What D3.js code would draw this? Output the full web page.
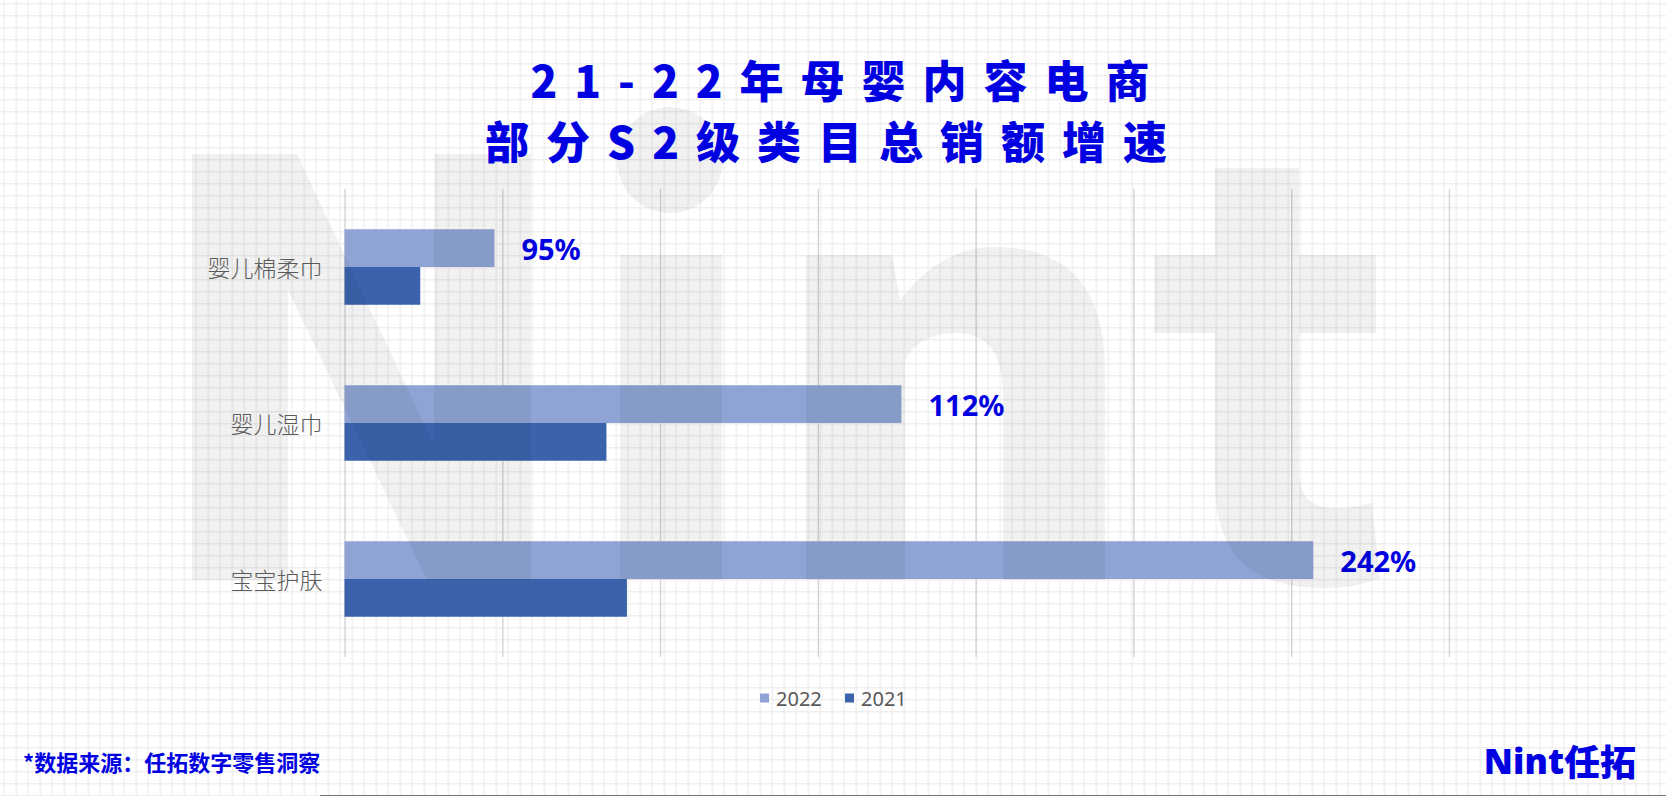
<!DOCTYPE html>
<html>
<head>
<meta charset="utf-8">
<script src="https://cdn.jsdelivr.net/npm/d3@7"></script>
<style>
  html, body { margin: 0; padding: 0; background: #fff; }
  svg { display: block; }
</style>
</head>
<body>
<svg id="chart" width="1666" height="796"></svg>
<script>
// ---- data ----
const categories = ["婴儿棉柔巾", "婴儿湿巾", "宝宝护肤"];
const seriesNames = ["2022", "2021"];
const values2022 = [0.95, 3.53, 6.14];
const values2021 = [0.48, 1.66, 1.79];
const growthLabels = ["95%", "112%", "242%"];
const xTicks = [0, 1, 2, 3, 4, 5, 6, 7];
const titleLines = ["21-22年母婴内容电商", "部分S2级类目总销额增速"];
const sourceText = "*数据来源：任拓数字零售洞察";

const W = 1666, H = 796;
const BLUE = "#0000e1";
const colors = { "2022": "#8fa4d4", "2021": "#3b63ac" };
const CJK = "'Noto Sans CJK SC', 'Noto Sans', sans-serif";

const svg = d3.select("#chart");

// background grid pattern
const defs = svg.append("defs");
const pat = defs.append("pattern")
  .attr("id", "bggrid").attr("patternUnits", "userSpaceOnUse")
  .attr("x", 3.5).attr("y", 3).attr("width", 12).attr("height", 12);
pat.append("rect").attr("width", 12).attr("height", 12).attr("fill", "#fff");
pat.append("rect").attr("x", 0).attr("y", 0).attr("width", 1.4).attr("height", 12).attr("fill", "#eeeeee");
pat.append("rect").attr("x", 0).attr("y", 0).attr("width", 12).attr("height", 1.4).attr("fill", "#eeeeee");
svg.append("rect").attr("width", W).attr("height", H).attr("fill", "url(#bggrid)");

// scales
const x = d3.scaleLinear().domain([0, 7]).range([344.5, 1449]);
const y = d3.scaleBand().domain(categories).range([189, 657]).paddingInner(0.516).paddingOuter(0.258);
const ySub = d3.scaleBand().domain(seriesNames).range([0, y.bandwidth()]).padding(0);

// vertical gridlines via axis
const gridAxis = d3.axisBottom(x).tickValues(xTicks).tickSize(-(657 - 189)).tickFormat("");
const gg = svg.append("g").attr("transform", `translate(0,657)`).call(gridAxis);
gg.select(".domain").remove();
gg.selectAll(".tick line").attr("stroke", "#d4d4d4").attr("stroke-width", 1.4);

// bars
const rows = categories.map((c, i) => ({ cat: c, "2022": values2022[i], "2021": values2021[i], label: growthLabels[i] }));
const groups = svg.append("g").selectAll("g").data(rows).join("g")
  .attr("transform", d => `translate(0,${y(d.cat)})`);
groups.selectAll("rect").data(d => seriesNames.map(s => ({ s, v: d[s] }))).join("rect")
  .attr("x", x(0))
  .attr("y", d => ySub(d.s))
  .attr("width", d => x(d.v) - x(0))
  .attr("height", ySub.bandwidth())
  .attr("fill", d => colors[d.s]);

// watermark "Nint" (drawn on top of bars, translucent)
const wm = svg.append("g").attr("fill", "#000").attr("fill-opacity", 0.055);
// N
wm.append("path").attr("d",
  "M192,154 L297,154 L434,445 L434,154 L531,154 L531,580 L427,580 L288,290 L288,580 L192,580 Z");
// i
wm.append("circle").attr("cx", 670).attr("cy", 160).attr("r", 53);
wm.append("rect").attr("x", 620).attr("y", 255).attr("width", 102).attr("height", 325);
// n
wm.append("path").attr("d",
  "M806,255 L892,255 L900,300 C925,268 955,247 995,247 C1070,247 1105,290 1105,370 L1105,580 L1003,580 L1003,395 C1003,350 985,333 955,333 C930,333 912,345 905,360 L905,580 L806,580 Z");
// t
wm.append("path").attr("d",
  "M1215,168 L1299,168 L1299,255 L1376,255 L1376,333 L1299,333 L1299,470 C1299,498 1312,508 1335,508 C1350,508 1362,506 1372,503 L1380,578 C1362,585 1345,588 1325,588 C1250,588 1215,555 1215,480 L1215,333 L1154,333 L1154,255 L1215,255 Z");

// value labels
groups.append("text")
  .attr("x", d => x(d["2022"]) + 27)
  .attr("y", ySub("2022") + ySub.bandwidth() / 2)
  .attr("dominant-baseline", "central")
  .attr("font-family", "'Noto Sans', 'Open Sans', sans-serif")
  .attr("font-weight", 700)
  .attr("font-size", 29)
  .attr("fill", BLUE)
  .text(d => d.label);

// category labels
const ya = d3.axisLeft(y).tickSize(0).tickPadding(22);
const yg = svg.append("g").attr("transform", `translate(${x(0)},0)`).call(ya);
yg.select(".domain").remove();
yg.selectAll("text")
  .attr("font-family", CJK)
  .attr("font-size", 23)
  .attr("font-weight", 300)
  .attr("fill", "#5a5a5a")
  .attr("dominant-baseline", "central")
  .attr("dy", null);

// title
const ls = 17;
svg.append("text").attr("x", 840 + ls / 2).attr("y", 79)
  .attr("text-anchor", "middle").attr("dominant-baseline", "central")
  .attr("font-family", CJK).attr("font-weight", 900).attr("font-size", 44)
  .attr("letter-spacing", ls).attr("fill", BLUE).text(titleLines[0]);
svg.append("text").attr("x", 826 + ls / 2).attr("y", 140)
  .attr("text-anchor", "middle").attr("dominant-baseline", "central")
  .attr("font-family", CJK).attr("font-weight", 900).attr("font-size", 44)
  .attr("letter-spacing", ls).attr("fill", BLUE).text(titleLines[1]);

// legend
const legend = svg.append("g");
const legX = [760, 845];
seriesNames.forEach((s, i) => {
  legend.append("rect").attr("x", legX[i]).attr("y", 693.5).attr("width", 9).attr("height", 9).attr("fill", colors[s]);
  legend.append("text").attr("x", legX[i] + 16).attr("y", 698)
    .attr("dominant-baseline", "central")
    .attr("font-family", "'Noto Sans', sans-serif").attr("font-size", 20)
    .attr("fill", "#595959").text(s);
});

// footer source
svg.append("text").attr("x", 23).attr("y", 761)
  .attr("dominant-baseline", "central")
  .attr("font-family", CJK).attr("font-weight", 700).attr("font-size", 22)
  .attr("fill", BLUE).text(sourceText);

// logo
const logo = svg.append("text").attr("x", 1636).attr("y", 760)
  .attr("text-anchor", "end").attr("dominant-baseline", "central")
  .attr("fill", BLUE).attr("font-weight", 900);
logo.append("tspan").attr("font-family", "'Open Sans', 'Noto Sans', sans-serif").attr("font-size", 35).attr("font-weight", 800).text("Nint");
logo.append("tspan").attr("font-family", CJK).attr("font-size", 36).attr("font-weight", 900).text("任拓");

// bottom edge line
svg.append("line").attr("x1", 320).attr("x2", W).attr("y1", 795.5).attr("y2", 795.5)
  .attr("stroke", "#777").attr("stroke-width", 1);
</script>
</body>
</html>
